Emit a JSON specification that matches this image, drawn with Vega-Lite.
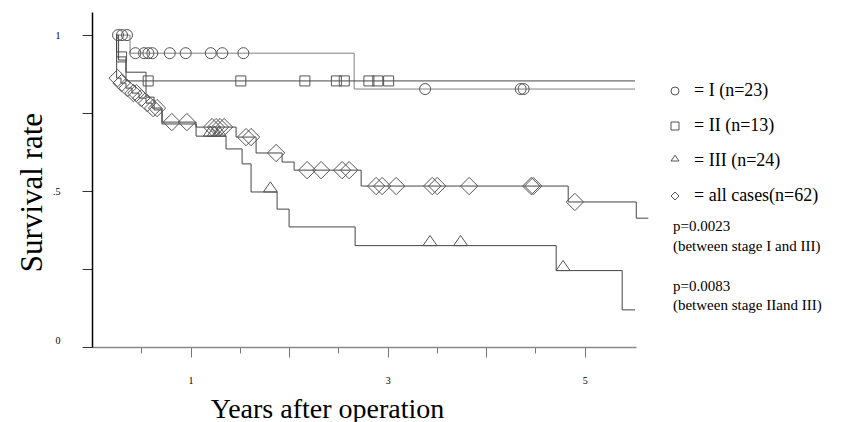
{
  "$schema": "https://vega.github.io/schema/vega-lite/v6.json",
  "width": 544,
  "height": 335,
  "autosize": {"type": "none"},
  "padding": {"left": 92, "top": 12, "right": 208, "bottom": 75},
  "background": "white",
  "config": {"view": {"stroke": null}, "font": "Liberation Serif"},
  "datasets": {
    "lines": [
      {"curve": "I", "t": 0.244, "s": 1.0},
      {"curve": "I", "t": 0.386, "s": 0.942},
      {"curve": "I", "t": 2.66, "s": 0.827},
      {"curve": "I", "t": 5.51, "s": 0.827},
      {"curve": "II", "t": 0.244, "s": 1.0},
      {"curve": "II", "t": 0.25, "s": 0.93},
      {"curve": "II", "t": 0.345, "s": 0.853},
      {"curve": "II", "t": 5.51, "s": 0.853},
      {"curve": "III", "t": 0.244, "s": 1.0},
      {"curve": "III", "t": 0.27, "s": 0.92},
      {"curve": "III", "t": 0.345, "s": 0.881},
      {"curve": "III", "t": 0.548, "s": 0.801},
      {"curve": "III", "t": 0.63, "s": 0.76},
      {"curve": "III", "t": 0.71, "s": 0.715},
      {"curve": "III", "t": 1.056, "s": 0.676},
      {"curve": "III", "t": 1.36, "s": 0.635},
      {"curve": "III", "t": 1.523, "s": 0.587},
      {"curve": "III", "t": 1.614, "s": 0.497},
      {"curve": "III", "t": 1.878, "s": 0.442},
      {"curve": "III", "t": 2.0, "s": 0.385},
      {"curve": "III", "t": 2.67, "s": 0.325},
      {"curve": "III", "t": 4.71, "s": 0.245},
      {"curve": "III", "t": 5.38, "s": 0.119},
      {"curve": "III", "t": 5.51, "s": 0.119},
      {"curve": "all", "t": 0.244, "s": 1.0},
      {"curve": "all", "t": 0.25, "s": 0.862},
      {"curve": "all", "t": 0.294, "s": 0.846},
      {"curve": "all", "t": 0.345, "s": 0.83},
      {"curve": "all", "t": 0.406, "s": 0.814},
      {"curve": "all", "t": 0.477, "s": 0.798},
      {"curve": "all", "t": 0.548, "s": 0.782},
      {"curve": "all", "t": 0.609, "s": 0.766},
      {"curve": "all", "t": 0.711, "s": 0.721},
      {"curve": "all", "t": 1.056, "s": 0.705},
      {"curve": "all", "t": 1.462, "s": 0.673},
      {"curve": "all", "t": 1.665, "s": 0.622},
      {"curve": "all", "t": 1.929, "s": 0.593},
      {"curve": "all", "t": 2.051, "s": 0.567},
      {"curve": "all", "t": 2.731, "s": 0.516},
      {"curve": "all", "t": 4.832, "s": 0.465},
      {"curve": "all", "t": 5.523, "s": 0.413},
      {"curve": "all", "t": 5.645, "s": 0.413}
    ],
    "points": [
      {"group": "I", "t": 0.264, "s": 1.0},
      {"group": "I", "t": 0.305, "s": 1.0},
      {"group": "I", "t": 0.355, "s": 1.0},
      {"group": "I", "t": 0.44, "s": 0.942},
      {"group": "I", "t": 0.528, "s": 0.942},
      {"group": "I", "t": 0.572, "s": 0.942},
      {"group": "I", "t": 0.612, "s": 0.942},
      {"group": "I", "t": 0.789, "s": 0.942},
      {"group": "I", "t": 0.951, "s": 0.942},
      {"group": "I", "t": 1.205, "s": 0.942},
      {"group": "I", "t": 1.322, "s": 0.942},
      {"group": "I", "t": 1.536, "s": 0.942},
      {"group": "I", "t": 3.38, "s": 0.827},
      {"group": "I", "t": 4.35, "s": 0.827},
      {"group": "I", "t": 4.38, "s": 0.827},
      {"group": "II", "t": 0.3, "s": 0.93},
      {"group": "II", "t": 0.57, "s": 0.853},
      {"group": "II", "t": 1.51, "s": 0.853},
      {"group": "II", "t": 2.16, "s": 0.853},
      {"group": "II", "t": 2.48, "s": 0.853},
      {"group": "II", "t": 2.56, "s": 0.853},
      {"group": "II", "t": 2.81, "s": 0.853},
      {"group": "II", "t": 2.9, "s": 0.853},
      {"group": "II", "t": 3.01, "s": 0.853},
      {"group": "III", "t": 1.2, "s": 0.676},
      {"group": "III", "t": 1.24, "s": 0.676},
      {"group": "III", "t": 1.29, "s": 0.676},
      {"group": "III", "t": 1.81, "s": 0.497},
      {"group": "III", "t": 3.43, "s": 0.325},
      {"group": "III", "t": 3.74, "s": 0.325},
      {"group": "III", "t": 4.78, "s": 0.245},
      {"group": "all", "t": 0.26, "s": 0.862},
      {"group": "all", "t": 0.3, "s": 0.846},
      {"group": "all", "t": 0.36, "s": 0.83},
      {"group": "all", "t": 0.42, "s": 0.814},
      {"group": "all", "t": 0.45, "s": 0.814},
      {"group": "all", "t": 0.5, "s": 0.798},
      {"group": "all", "t": 0.56, "s": 0.782},
      {"group": "all", "t": 0.62, "s": 0.766},
      {"group": "all", "t": 0.66, "s": 0.766},
      {"group": "all", "t": 0.81, "s": 0.721},
      {"group": "all", "t": 0.963, "s": 0.721},
      {"group": "all", "t": 1.218, "s": 0.705},
      {"group": "all", "t": 1.259, "s": 0.705},
      {"group": "all", "t": 1.299, "s": 0.705},
      {"group": "all", "t": 1.34, "s": 0.705},
      {"group": "all", "t": 1.563, "s": 0.673},
      {"group": "all", "t": 1.614, "s": 0.673},
      {"group": "all", "t": 1.868, "s": 0.622},
      {"group": "all", "t": 2.183, "s": 0.567},
      {"group": "all", "t": 2.325, "s": 0.567},
      {"group": "all", "t": 2.538, "s": 0.567},
      {"group": "all", "t": 2.609, "s": 0.567},
      {"group": "all", "t": 2.883, "s": 0.516},
      {"group": "all", "t": 2.944, "s": 0.516},
      {"group": "all", "t": 3.086, "s": 0.516},
      {"group": "all", "t": 3.452, "s": 0.516},
      {"group": "all", "t": 3.503, "s": 0.516},
      {"group": "all", "t": 3.827, "s": 0.516},
      {"group": "all", "t": 4.457, "s": 0.516},
      {"group": "all", "t": 4.477, "s": 0.516},
      {"group": "all", "t": 4.9, "s": 0.465}
    ],
    "note1": [{"note": "p=0.0023\n(between stage I  and III)"}],
    "note2": [{"note": "p=0.0083\n(between stage IIand III)"}]
  },
  "layer": [
    {
      "data": {"name": "lines"},
      "mark": {"type": "line", "interpolate": "step-after", "strokeWidth": 1},
      "encoding": {
        "x": {
          "field": "t",
          "type": "quantitative",
          "scale": {"domain": [0, 5.52], "nice": false, "zero": false},
          "axis": {
            "values": [0.5, 1, 1.5, 2, 2.5, 3, 3.5, 4, 4.5, 5],
            "labelExpr": "datum.value === 1 ? '1' : datum.value === 3 ? '3' : datum.value === 5 ? '5' : ''",
            "tickSize": {"condition": {"test": "datum.value % 1 === 0", "value": 10}, "value": 6},
            "grid": false,
            "domainColor": "#8a8a8a",
            "domainWidth": 1.5,
            "tickColor": "#777",
            "labelFont": "Liberation Serif",
            "labelFontSize": 10,
            "labelColor": "black",
            "labelPadding": 18,
            "title": "Years after operation",
            "titleFont": "Liberation Serif",
            "titleFontSize": 28,
            "titleFontWeight": "normal",
            "titleColor": "black",
            "titleX": 235,
            "titleY": 70,
            "titleBaseline": "alphabetic"
          }
        },
        "y": {
          "field": "s",
          "type": "quantitative",
          "scale": {"domain": [0, 1.074], "nice": false},
          "axis": {
            "values": [0, 0.25, 0.5, 0.75, 1],
            "labelExpr": "datum.value === 1 ? '1' : datum.value === 0.5 ? '.5' : datum.value === 0 ? '0' : ''",
            "labelOffset": {"condition": {"test": "datum.value === 0", "value": -7}, "value": 0},
            "tickSize": 10,
            "grid": false,
            "domainColor": "black",
            "domainWidth": 1.5,
            "tickColor": "#333",
            "labelFont": "Liberation Serif",
            "labelFontSize": 10,
            "labelColor": "black",
            "labelPadding": 22,
            "title": "Survival rate",
            "titleFont": "Liberation Serif",
            "titleFontSize": 31,
            "titleFontWeight": "normal",
            "titleColor": "black",
            "titleX": -51,
            "titleY": 180,
            "titleAngle": 270,
            "titleBaseline": "alphabetic"
          }
        },
        "detail": {"field": "curve", "type": "nominal"},
        "color": {"condition": {"test": "datum.curve === 'I'", "value": "#808080"}, "value": "#454545"}
      }
    },
    {
      "data": {"name": "points"},
      "mark": {"type": "point", "filled": false, "color": "#555", "strokeWidth": 1, "opacity": 1},
      "encoding": {
        "x": {"field": "t", "type": "quantitative"},
        "y": {"field": "s", "type": "quantitative"},
        "size": {
          "condition": [
            {"test": "datum.group === 'all'", "value": 300},
            {"test": "datum.group === 'III'", "value": 196},
            {"test": "datum.group === 'II'", "value": 100}
          ],
          "value": 121
        },
        "shape": {
          "field": "group",
          "type": "nominal",
          "scale": {"domain": ["I", "II", "III", "all"], "range": ["circle", "square", "M0,-1.45L-1,0L1,0Z", "diamond"]},
          "legend": {
            "orient": "none",
            "legendX": 574,
            "legendY": 70,
            "title": null,
            "padding": 0,
            "symbolSize": 64,
            "symbolStrokeColor": "#555",
            "symbolStrokeWidth": 1,
            "symbolFillColor": "transparent",
            "labelFont": "Liberation Serif",
            "labelFontSize": 18,
            "labelColor": "black",
            "labelOffset": 10,
            "rowPadding": 17,
            "labelExpr": "datum.value === 'I' ? '= I (n=23)' : datum.value === 'II' ? '= II (n=13)' : datum.value === 'III' ? '= III (n=24)' : '= all cases(n=62)'"
          }
        }
      }
    },
    {
      "data": {"name": "note1"},
      "mark": {"type": "text", "align": "left", "baseline": "top", "font": "Liberation Serif", "fontSize": 15, "lineHeight": 20, "lineBreak": "\n", "color": "black"},
      "encoding": {"x": {"datum": 5.895}, "y": {"datum": 0.41}, "text": {"field": "note"}}
    },
    {
      "data": {"name": "note2"},
      "mark": {"type": "text", "align": "left", "baseline": "top", "font": "Liberation Serif", "fontSize": 15, "lineHeight": 19, "lineBreak": "\n", "color": "black"},
      "encoding": {"x": {"datum": 5.895}, "y": {"datum": 0.218}, "text": {"field": "note"}}
    }
  ]
}
